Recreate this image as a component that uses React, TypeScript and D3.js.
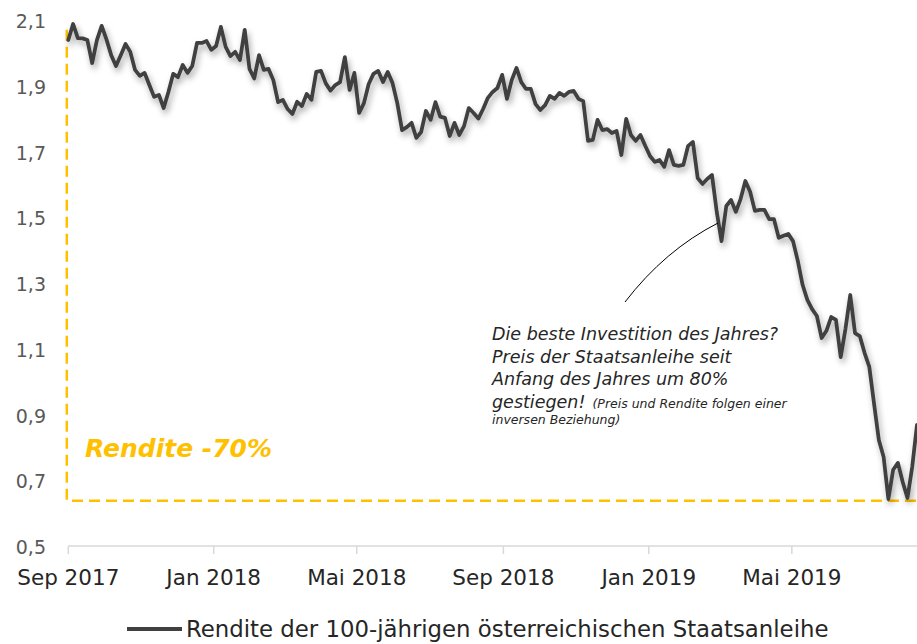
import React from "react";
import * as d3 from "d3";

// ---- data ----
const START_DATE = new Date(2017, 8, 1); // 1 Sep 2017
const STEP_DAYS = 4;
// Yield of the 100-year Austrian government bond, one reading every 4 days
const yields: number[] = [
  2.043, 2.092, 2.049, 2.048, 2.043, 1.973, 2.043, 2.086, 2.045, 1.997,
  1.964, 1.997, 2.031, 2.007, 1.952, 1.934, 1.943, 1.906, 1.870, 1.876,
  1.836, 1.885, 1.940, 1.930, 1.967, 1.943, 1.964, 2.034, 2.034, 2.040,
  2.013, 2.025, 2.083, 2.022, 1.994, 2.007, 1.982, 2.074, 1.955, 1.926,
  1.997, 1.952, 1.955, 1.921, 1.854, 1.861, 1.833, 1.818, 1.855, 1.842,
  1.879, 1.861, 1.946, 1.949, 1.911, 1.889, 1.906, 1.915, 1.991, 1.891,
  1.943, 1.821, 1.851, 1.909, 1.940, 1.949, 1.915, 1.946, 1.912, 1.851,
  1.769, 1.778, 1.791, 1.745, 1.763, 1.827, 1.800, 1.854, 1.810, 1.806,
  1.751, 1.791, 1.754, 1.781, 1.836, 1.821, 1.804, 1.833, 1.867, 1.885,
  1.897, 1.937, 1.864, 1.921, 1.958, 1.915, 1.894, 1.894, 1.848, 1.830,
  1.845, 1.873, 1.864, 1.882, 1.873, 1.885, 1.888, 1.864, 1.857, 1.736,
  1.739, 1.800, 1.769, 1.772, 1.760, 1.766, 1.693, 1.803, 1.754, 1.736,
  1.754, 1.721, 1.690, 1.672, 1.678, 1.657, 1.708, 1.663, 1.660, 1.663,
  1.721, 1.733, 1.623, 1.605, 1.620, 1.632, 1.520, 1.431, 1.538, 1.556,
  1.520, 1.559, 1.614, 1.581, 1.523, 1.526, 1.526, 1.498, 1.498, 1.441,
  1.447, 1.453, 1.431, 1.371, 1.298, 1.252, 1.224, 1.203, 1.136, 1.158,
  1.200, 1.191, 1.078, 1.164, 1.267, 1.151, 1.142, 1.091, 1.048, 0.935,
  0.826, 0.774, 0.646, 0.735, 0.756, 0.698, 0.649, 0.744, 0.872,
];

const xTickDates: Date[] = [
  new Date(2017, 8, 1),
  new Date(2018, 0, 1),
  new Date(2018, 4, 1),
  new Date(2018, 8, 1),
  new Date(2019, 0, 1),
  new Date(2019, 4, 1),
];
const xTickLabels: string[] = [
  "Sep 2017",
  "Jan 2018",
  "Mai 2018",
  "Sep 2018",
  "Jan 2019",
  "Mai 2019",
];
const yTickValues: number[] = [0.5, 0.7, 0.9, 1.1, 1.3, 1.5, 1.7, 1.9, 2.1];

const BOX_TOP = 2.074; // level at the start of the period
const BOX_MIN = 0.641; // lowest level
const seriesName = "Rendite der 100-jährigen österreichischen Staatsanleihe";
const boxLabel = "Rendite -70%";
const noteLines: string[] = [
  "Die beste Investition des Jahres?",
  "Preis der Staatsanleihe seit",
  "Anfang des Jahres um 80%",
  "gestiegen!",
];
const noteSmall: string[] = [
  "(Preis und Rendite folgen einer",
  "inversen Beziehung)",
];

const W = 917;
const H = 644;
const FONT = "'DejaVu Sans', 'Open Sans', sans-serif";
const GOLD = "#FFC000";

export default function App() {
  const dates = yields.map((_, i) => d3.timeDay.offset(START_DATE, i * STEP_DAYS));
  const endDate = dates[dates.length - 1];

  const x = d3.scaleTime().domain([START_DATE, endDate]).range([68.3, 917]);
  const y = d3.scaleLinear().domain([0.5, 2.1]).range([547, 21.3]);

  const line = d3
    .line<number>()
    .x((_, i) => x(dates[i]))
    .y((d) => y(d));

  const fmt = (v: number) => d3.format(".1f")(v).replace(".", ",");

  const axisY = y(0.5) - 1;
  const x0 = x(START_DATE);

  const boxPath = `M${x0 - 1.5},${y(BOX_TOP)}V${y(BOX_MIN)}H${W}`;

  const annStart: [number, number] = [625, 302];
  const annEnd: [number, number] = [718, 223];
  const annCtrl: [number, number] = [665, 250];

  return (
    <svg
      width={W}
      height={H}
      style={{ position: "absolute", left: 0, top: 0, background: "#fff" }}
      fontFamily={FONT}
    >
      <defs>
        <filter id="shadow" x="-5%" y="-5%" width="110%" height="115%">
          <feDropShadow dx="2" dy="4" stdDeviation="3" floodColor="#000" floodOpacity="0.35" />
        </filter>
        <clipPath id="plotClip">
          <rect x={0} y={0} width={W} height={H} />
        </clipPath>
      </defs>

      {/* y tick labels */}
      {yTickValues.map((v) => (
        <text key={v} x={46} y={y(v) + 7} textAnchor="end" fontSize={19} fill="#595959">
          {fmt(v)}
        </text>
      ))}

      {/* x axis */}
      <line x1={x0} x2={W} y1={axisY} y2={axisY} stroke="#d9d9d9" strokeWidth={1.5} />
      {xTickDates.map((d, i) => (
        <g key={i}>
          <line x1={x(d)} x2={x(d)} y1={axisY} y2={axisY + 8} stroke="#d9d9d9" strokeWidth={1.5} />
          <text x={x(d)} y={585} textAnchor="middle" fontSize={21.5} fill="#262626">
            {xTickLabels[i]}
          </text>
        </g>
      ))}

      {/* dashed reference box */}
      <path d={boxPath} fill="none" stroke={GOLD} strokeWidth={2.5} strokeDasharray="11,6" />
      <text x={85} y={457} fontSize={25} fontWeight="bold" fontStyle="italic" fill={GOLD}>
        {boxLabel}
      </text>

      {/* series line */}
      <path
        d={line(yields) || ""}
        fill="none"
        stroke="#404040"
        strokeWidth={3.75}
        strokeLinejoin="round"
        strokeLinecap="round"
        filter="url(#shadow)"
        clipPath="url(#plotClip)"
      />

      {/* annotation */}
      <path
        d={`M${annStart[0]},${annStart[1]}Q${annCtrl[0]},${annCtrl[1]} ${annEnd[0]},${annEnd[1]}`}
        fill="none"
        stroke="#000"
        strokeWidth={1}
      />
      <g fontStyle="italic" fill="#262626">
        <text x={492} y={340} fontSize={17.5}>{noteLines[0]}</text>
        <text x={492} y={363} fontSize={17.5}>{noteLines[1]}</text>
        <text x={492} y={385} fontSize={17.5}>{noteLines[2]}</text>
        <text x={492} y={408} fontSize={17.5}>
          {noteLines[3]}
          <tspan fontSize={12.5} dx={7}>{noteSmall[0]}</tspan>
        </text>
        <text x={492} y={424} fontSize={12.5}>{noteSmall[1]}</text>
      </g>

      {/* legend */}
      <line x1={127} x2={182} y1={629} y2={629} stroke="#404040" strokeWidth={4} />
      <text x={186} y={637} fontSize={22.8} fill="#262626">
        {seriesName}
      </text>
    </svg>
  );
}
